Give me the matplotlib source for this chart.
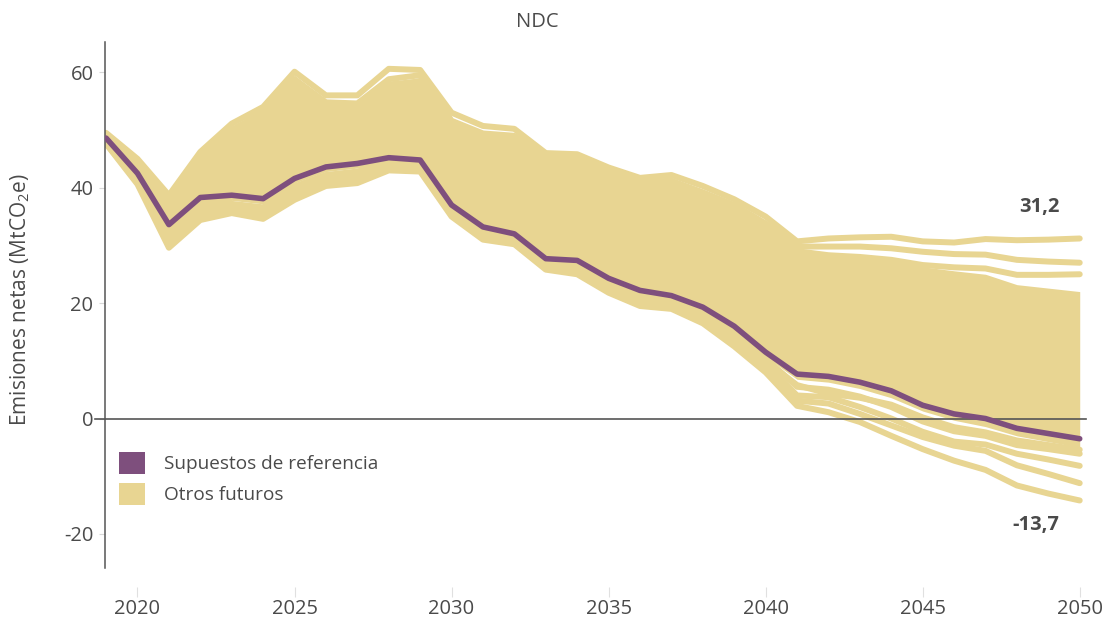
import numpy as np
import matplotlib
matplotlib.use("Agg")
import matplotlib.pyplot as plt
from matplotlib.patches import Patch

# =====================================
# datos
# =====================================
anios = np.arange(2019, 2051)

referencia = [48.6, 42.5, 33.6, 38.3, 38.7, 38.1, 41.6, 43.6, 44.2, 45.2, 44.8,
              37.0, 33.2, 32.0, 27.7, 27.4, 24.3, 22.2, 21.3, 19.3, 16.0, 11.5,
              7.7, 7.3, 6.3, 4.8, 2.3, 0.8, 0.0, -1.7, -2.6, -3.5]

# núcleo denso del abanico de futuros
nucleo_sup = [49.3, 44.5, 38.0, 45.5, 50.5, 53.5, 59.5, 55.0, 55.0, 58.5, 59.0,
              51.5, 49.2, 48.8, 45.5, 45.3, 43.0, 41.2, 41.5, 39.5, 37.2, 34.0,
              29.2, 28.6, 28.0, 27.3, 26.3, 25.6, 25.0, 23.2, 22.6, 22.0]
nucleo_inf = [47.8, 41.2, 30.0, 34.6, 37.8, 37.2, 40.8, 42.8, 43.4, 44.4, 44.0,
              36.2, 32.4, 31.2, 26.9, 26.6, 23.5, 21.4, 20.5, 18.5, 15.2, 10.7,
              6.8, 6.3, 5.2, 3.6, 1.3, -0.3, -1.4, -3.0, -4.0, -5.0]

# futuros individuales visibles en los bordes
futuro_alto1 = [49.5, 45.0, 38.7, 46.2, 51.1, 54.0, 60.1, 56.0, 56.0, 60.6, 60.4,
                53.0, 50.7, 50.2, 46.0, 45.8, 43.5, 41.7, 42.2, 40.3, 38.0, 35.0,
                30.7, 31.2, 31.4, 31.5, 30.7, 30.5, 31.1, 30.9, 31.0, 31.2]
futuro_alto2 = [49.2, 44.4, 37.8, 45.0, 50.0, 53.0, 58.8, 54.8, 54.6, 58.8, 59.5,
                51.6, 49.4, 49.0, 45.2, 45.0, 42.8, 41.0, 41.2, 39.2, 37.0, 33.8,
                29.8, 29.8, 29.8, 29.5, 28.9, 28.5, 28.4, 27.5, 27.2, 27.0]
futuro_alto3 = [49.0, 44.0, 37.2, 44.5, 49.4, 52.4, 58.0, 54.0, 54.0, 57.5, 58.5,
                50.8, 48.6, 48.2, 44.6, 44.4, 42.2, 40.4, 40.6, 38.6, 36.4, 33.2,
                29.0, 28.3, 28.0, 27.5, 26.6, 26.2, 26.0, 24.9, 24.9, 25.0]
futuro_bajo1 = [48.0, 41.6, 31.5, 36.6, 37.0, 36.3, 40.0, 42.0, 42.6, 44.0, 43.8,
                36.0, 32.3, 31.2, 26.8, 26.4, 23.2, 21.0, 20.2, 18.0, 14.5, 10.0,
                5.8, 4.3, 3.6, 2.4, 0.2, -1.5, -2.4, -3.8, -4.6, -5.4]
futuro_bajo2 = [47.6, 40.6, 29.6, 34.4, 35.6, 34.6, 37.9, 40.3, 40.8, 43.0, 42.8,
                35.0, 31.0, 30.2, 25.8, 25.0, 21.8, 19.5, 19.0, 16.5, 12.5, 8.0,
                2.2, 1.1, -0.6, -3.0, -5.3, -7.3, -8.9, -11.6, -13.0, -14.2]
futuro_bajo3 = [47.7, 40.9, 30.2, 35.0, 36.2, 35.3, 38.8, 41.0, 41.6, 43.4, 43.2,
                35.5, 31.6, 30.6, 26.2, 25.6, 22.4, 20.1, 19.5, 17.1, 13.2, 8.8,
                3.1, 2.6, 0.8, -1.2, -3.2, -4.7, -5.6, -8.1, -9.6, -11.2]
futuro_bajo4 = [47.8, 41.2, 30.8, 35.6, 36.6, 35.8, 39.4, 41.5, 42.1, 43.7, 43.5,
                35.8, 32.0, 31.0, 26.5, 26.0, 22.9, 20.6, 19.9, 17.6, 13.9, 9.4,
                4.0, 3.7, 2.0, 0.0, -2.3, -4.0, -4.5, -6.1, -7.1, -8.2]
futuro_bajo5 = [47.9, 41.4, 31.2, 36.0, 37.2, 36.6, 40.2, 42.2, 42.8, 44.2, 44.0,
                36.3, 32.5, 31.4, 27.0, 26.7, 23.5, 21.2, 20.4, 18.3, 14.8, 10.4,
                5.5, 5.0, 3.8, 2.0, -0.5, -2.2, -3.0, -4.6, -5.3, -6.1]

futuros = [futuro_alto1, futuro_alto2, futuro_alto3,
           futuro_bajo1, futuro_bajo2, futuro_bajo3, futuro_bajo4, futuro_bajo5]

etiqueta_max = "31,2"
etiqueta_min = "-13,7"

MORADO = "#7e4f7d"
AMARILLO = "#e8d592"
GRIS = "#4a4a4a"

plt.rcParams["font.family"] = ["Open Sans", "DejaVu Sans"]
plt.rcParams["mathtext.fontset"] = "custom"
plt.rcParams["mathtext.rm"] = "Open Sans"
plt.rcParams["mathtext.it"] = "Open Sans"
plt.rcParams["axes.unicode_minus"] = False

# =====================================
# figura
# =====================================
fig = plt.figure(figsize=(11.15, 6.21), dpi=100)
ax = fig.add_axes([104.5 / 1115, 1 - 568 / 621, (1086 - 104.5) / 1115, (568 - 41.7) / 621])

ax.fill_between(anios, nucleo_inf, nucleo_sup, color=AMARILLO, lw=0, zorder=1)
for f in futuros:
    ax.plot(anios, f, color=AMARILLO, lw=4.3, solid_capstyle="round",
            solid_joinstyle="round", zorder=2)

ax.axhline(0, xmin=-0.01, xmax=1, color="#555555", lw=1.2, zorder=3, clip_on=False)

ax.plot(anios, referencia, color=MORADO, lw=4.0, solid_capstyle="round",
        solid_joinstyle="round", zorder=4)

ax.set_xlim(2018.95, 2050.2)
ax.set_ylim(-25.9, 65.3)

ax.set_xticks([2020, 2025, 2030, 2035, 2040, 2045, 2050])
ax.set_yticks([-20, 0, 20, 40, 60])

for s in ["top", "right"]:
    ax.spines[s].set_visible(False)
ax.spines["bottom"].set_position(("outward", 14))
ax.spines["bottom"].set_visible(False)
ax.spines["left"].set_color("#555555")
ax.spines["left"].set_linewidth(1.1)

ax.tick_params(axis="x", length=7, width=0.8, color="#e0e0e0", pad=1,
               labelsize=14.5, labelcolor=GRIS)
ax.tick_params(axis="y", length=4, width=0.8, color="#d8d8d8", pad=4,
               labelsize=14.5, labelcolor=GRIS)

# etiquetas de extremos
ax.text(2048.7, 36.6, etiqueta_max, ha="center", va="center",
        fontsize=14.5, fontweight="bold", color=GRIS)
ax.text(2048.6, -18.5, etiqueta_min, ha="center", va="center",
        fontsize=14.5, fontweight="bold", color=GRIS)

fig.text(537 / 1115, 1 - 22 / 621, "NDC", ha="center", va="center",
         fontsize=14.5, color=GRIS)
fig.text(20 / 1115, 1 - 300 / 621, r"Emisiones netas (MtCO$_2$e)", rotation=90,
         ha="center", va="center", fontsize=15, color=GRIS)

# leyenda
handles = [Patch(facecolor=MORADO, edgecolor="none"),
           Patch(facecolor=AMARILLO, edgecolor="none")]
fig.legend(handles, ["Supuestos de referencia", "Otros futuros"],
           loc="upper left", bbox_to_anchor=(119 / 1115, 1 - 452 / 621),
           frameon=False, fontsize=13.7, handlelength=1.38, handleheight=1.38,
           handletextpad=1.0, labelspacing=0.5, borderpad=0, borderaxespad=0,
           labelcolor=GRIS)

plt.savefig("out.png", dpi=100)
plt.close()
